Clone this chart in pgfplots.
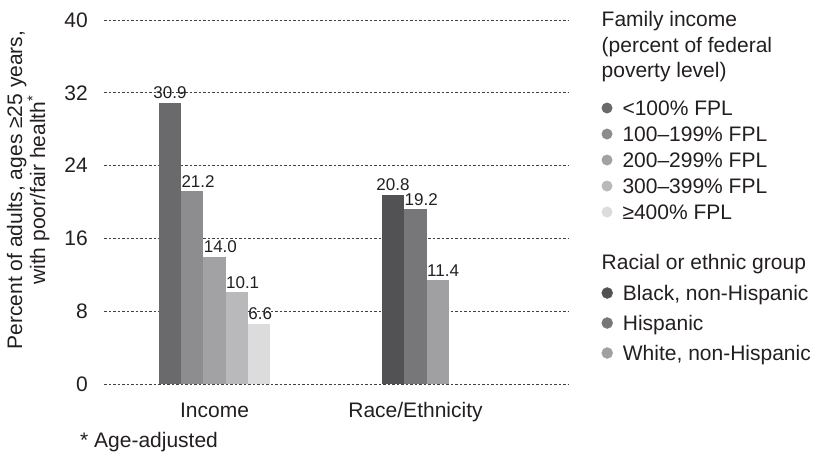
\documentclass[border=0pt]{standalone}
\usepackage{pgfplots}
\pgfplotsset{compat=1.18}
\usepackage{fontspec}
\setmainfont{Liberation Sans}
\definecolor{txt}{HTML}{231F20}
\definecolor{cA}{HTML}{6A6A6D}
\definecolor{cB}{HTML}{8D8D90}
\definecolor{cC}{HTML}{A2A2A4}
\definecolor{cD}{HTML}{B9B9BB}
\definecolor{cE}{HTML}{DCDCDD}
\definecolor{rA}{HTML}{525254}
\definecolor{rB}{HTML}{77777A}
\definecolor{rC}{HTML}{A0A0A3}
\newcommand{\bigf}{\fontsize{21}{25}\selectfont}
\newcommand{\valf}{\fontsize{17}{20}\selectfont}
\pgfplotsset{
  valfmt/.style={nodes near coords={\pgfmathprintnumber[fixed,fixed zerofill,precision=1,assume math mode=true]{\pgfplotspointmeta}},
    nodes near coords style={font=\valf, text=txt, inner sep=0pt, anchor=base west, xshift=-11pt, yshift=4pt}},
  valfmtc/.style={nodes near coords={\pgfmathprintnumber[fixed,fixed zerofill,precision=1,assume math mode=true]{\pgfplotspointmeta}},
    nodes near coords style={font=\valf, text=txt, inner sep=0pt, anchor=base, yshift=4pt}},
  bars/.style={ybar, bar width=22.3, draw=none, fill=#1},
  mylegend/.style={
    legend style={draw=none, fill=none, inner sep=0pt, outer sep=0pt,
      cells={anchor=west},
      nodes={inner sep=0pt, text height=15pt, text depth=4pt, font=\bigf, text=txt},
      /tikz/every odd column/.append style={column sep=10pt}},
    legend image code/.code={\fill[##1] (5.5pt,2pt) circle (5.5pt);}
  }
}
\begin{document}
\begin{tikzpicture}[x=1pt,y=1pt]
\useasboundingbox (0,0) rectangle (816,458);
\begin{axis}[
  at={(104pt,74pt)}, anchor=south west, scale only axis,
  width=465pt, height=364pt,
  xmin=104, xmax=569, ymin=0, ymax=40,
  ytick={0,8,16,24,32,40},
  xtick={214.5,415.5}, xticklabels={Income,Race/Ethnicity},
  axis line style={draw=none}, major tick length=0pt,
  ymajorgrids, grid style={dash pattern=on 2.5pt off 2pt, line width=0.8pt, color=txt!85},
  yticklabel style={font=\bigf, text=txt, anchor=east, inner sep=0pt, xshift=-16pt, /pgf/number format/assume math mode=true},
  xticklabel style={font=\bigf, text=txt, anchor=base, inner sep=0pt, yshift=-33pt},
  ylabel={Percent of adults, ages ≥25 years,\\with poor/fair health\textsuperscript{*}},
  ylabel style={align=center, at={(axis description cs:-0.163,0.533)}, anchor=center, font=\fontsize{21}{23}\selectfont, text=txt},
  clip=false,
  mylegend,
  legend style={at={(axis description cs:1.0699,0.7788)}, anchor=north west, row sep=7pt},
]
\addplot[bars=cA, valfmtc] coordinates {(170,30.9)};
\addplot[bars=cB, valfmt] coordinates {(192.3,21.2)};
\addplot[bars=cC, valfmt] coordinates {(214.6,14.0)};
\addplot[bars=cD, valfmt] coordinates {(236.9,10.1)};
\addplot[bars=cE, valfmt] coordinates {(259.2,6.6)};
\addplot[bars=rA, valfmtc] coordinates {(393,20.8)};
\addplot[bars=rB, valfmt] coordinates {(415.5,19.2)};
\addplot[bars=rC, valfmt] coordinates {(438,11.4)};
\legend{{<100\% FPL},{100\textendash199\% FPL},{200\textendash299\% FPL},{300\textendash399\% FPL},{≥400\% FPL}}
\end{axis}
\begin{axis}[
  at={(104pt,74pt)}, anchor=south west, scale only axis,
  width=465pt, height=364pt, hide axis,
  xmin=0, xmax=1, ymin=0, ymax=1,
  mylegend,
  legend style={at={(axis description cs:1.0699,0.2706)}, anchor=north west, row sep=11pt},
]
\addlegendimage{rA}\addlegendentry{Black, non-Hispanic}
\addlegendimage{rB}\addlegendentry{Hispanic}
\addlegendimage{rC}\addlegendentry{White, non-Hispanic}
\end{axis}
\begin{scope}[every node/.style={font=\bigf, text=txt, inner sep=0pt, anchor=base west}]
\node at (601.5,431) {Family income};
\node at (601.5,405) {(percent of federal};
\node at (601.5,380) {poverty level)};
\node at (601.5,188) {Racial or ethnic group};
\node at (80,11) {* Age-adjusted};
\end{scope}
\end{tikzpicture}
\end{document}
